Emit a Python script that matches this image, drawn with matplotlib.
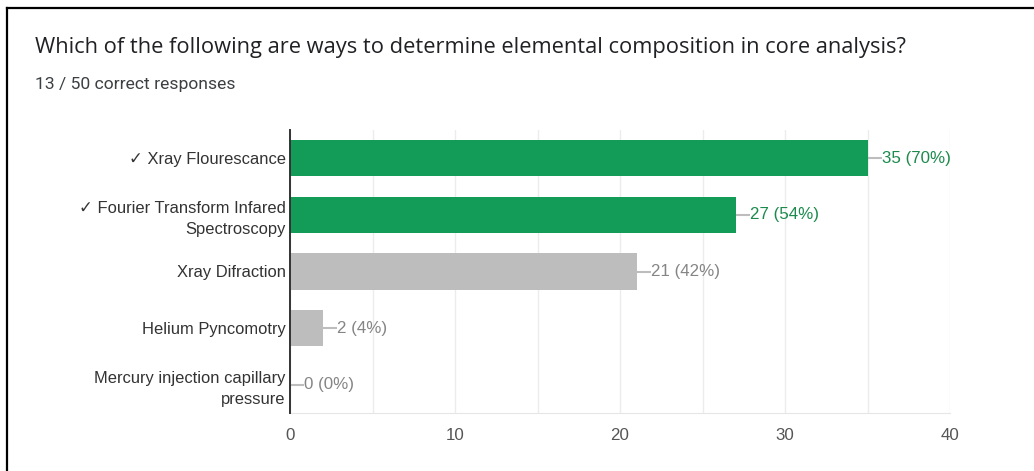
import matplotlib
matplotlib.use("Agg")
import matplotlib.pyplot as plt
from matplotlib.lines import Line2D

plt.rcParams['font.family'] = ['Liberation Sans', 'DejaVu Sans']

title = "Which of the following are ways to determine elemental composition in core analysis?"
subtitle = "13 / 50 correct responses"
categories = [
    "\u2713 Xray Flourescance",
    "\u2713 Fourier Transform Infared\nSpectroscopy",
    "Xray Difraction",
    "Helium Pyncomotry",
    "Mercury injection capillary\npressure",
]
counts = [35, 27, 21, 2, 0]
correct = [True, True, False, False, False]
total = 50
xticks = [0, 10, 20, 30, 40]

GREEN = "#129c58"
GREEN_TEXT = "#1b8a4c"
GRAY = "#bdbdbd"
GRAY_TEXT = "#858585"
DARK = "#202124"
LABEL = "#333333"

W, H = 1034, 471
fig = plt.figure(figsize=(W / 100, H / 100), dpi=100)
fig.patch.set_facecolor("white")

# outer frame (left and top edges)
fig.add_artist(Line2D([6.5 / W, 6.5 / W], [0, 1 - 7.5 / H], color="black", lw=1.6))
fig.add_artist(Line2D([6.5 / W, 1], [1 - 7.5 / H, 1 - 7.5 / H], color="black", lw=1.6))

fig.text(35 / W, 1 - 47 / H, title, fontsize=15.75, color=DARK,
         family=['Open Sans', 'DejaVu Sans'], va="center", ha="left")
fig.text(35 / W, 1 - 85 / H, subtitle, fontsize=12.6, color="#3c4043",
         family=['Roboto', 'DejaVu Sans'], va="center", ha="left")

ax = fig.add_axes([290 / W, 1 - 413 / H, 660 / W, 283 / H])
y = list(range(len(categories)))
colors = [GREEN if c else GRAY for c in correct]
ax.barh(y, counts, height=0.64, color=colors, zorder=3)

FS = 12.2
for i, (v, ok) in enumerate(zip(counts, correct)):
    tc = GREEN_TEXT if ok else GRAY_TEXT
    ax.plot([v, v + 0.85], [i, i], color=GRAY, lw=1.5, zorder=3, solid_capstyle="butt")
    ax.text(v + 0.86, i, f"{v} ({v * 100 // total}%)", color=tc, fontsize=FS,
            va="center", ha="left", zorder=4)

ax.set_xlim(0, 40)
ax.set_ylim(len(categories) - 0.5, -0.5)
ax.set_xticks(xticks)
ax.set_xticks(range(0, 41, 5), minor=True)
ax.set_yticks(y)
ax.set_yticklabels(categories, fontsize=11.9, color=LABEL, linespacing=1.5,
                   family=['Liberation Sans', 'DejaVu Sans'])
ax.tick_params(axis="both", length=0, pad=3)
ax.tick_params(axis="x", labelsize=FS, labelcolor="#555555", pad=11)
ax.tick_params(axis="x", which="minor", length=0)
ax.grid(axis="x", which="both", color="#ececec", lw=1, zorder=0)
for s in ["top", "right"]:
    ax.spines[s].set_visible(False)
ax.spines["bottom"].set_color("#e6e6e6")
ax.spines["left"].set_color("#333333")
ax.spines["left"].set_linewidth(1.4)
ax.spines["left"].set_zorder(5)

fig.savefig("out.png", dpi=100, facecolor="white")
